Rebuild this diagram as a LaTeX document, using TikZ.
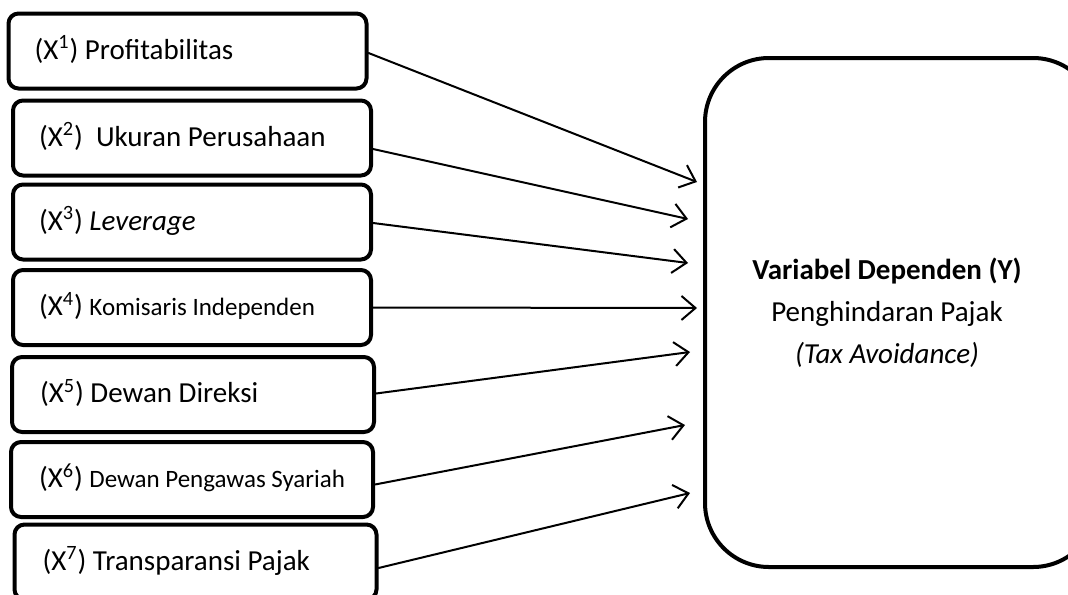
\documentclass[tikz,border=0pt]{standalone}
\usepackage{fontspec}
\setmainfont{Carlito}
\usetikzlibrary{arrows.meta,calc}
\newcommand\kecil{\fontsize{12.5}{21}\selectfont}

\begin{document}
\begin{tikzpicture}[x=.5pt, y=-.5pt, line join=round, line cap=round,
  >={Straight Barb[length=7pt,width=12pt]},
  varbox/.style={draw, line width=2pt, rounded corners=5pt, minimum height=37.5pt,
    text width=153pt, inner xsep=13pt, align=flush left,
    font=\fontsize{14.5}{21}\selectfont, execute at begin node=\strut},
  depbox/.style={draw, line width=2pt, rounded corners=32pt, minimum width=196pt,
    minimum height=254.5pt, align=center, font=\fontsize{14.5}{21}\selectfont}]
\useasboundingbox (0,0) rectangle (1068,594);
%Variabel independen (X)
\node[varbox] (x1) at (187.5,51) {(X\textsuperscript{1}) Profitabilitas};
\node[varbox] (x2) at (192,138) {(X\textsuperscript{2})~ Ukuran Perusahaan};
\node[varbox] (x3) at (192,222) {(X\textsuperscript{3}) \textit{Leverage}};
\node[varbox] (x4) at (192,307.5) {(X\textsuperscript{4}) {\kecil Komisaris Independen}};
\node[varbox, inner xsep=14pt] (x5) at (193,394.5) {(X\textsuperscript{5}) Dewan Direksi};
\node[varbox, inner xsep=14pt] (x6) at (192,479.5) {(X\textsuperscript{6}) {\kecil Dewan Pengawas Syariah}};
\node[varbox, inner xsep=14pt] (x7) at (195.5,562) {(X\textsuperscript{7}) Transparansi Pajak};
%Variabel dependen (Y)
\node[depbox] (dep) at (901,312.5) {\hspace*{-14pt}\textbf{Variabel Dependen (Y)}\\ \hspace*{-14pt}Penghindaran Pajak\\ \hspace*{-14pt}\textit{(Tax Avoidance)}};
%Panah
\foreach \i/\dy/\tx/\ty in {1/2/697/182, 2/11/688/219, 3/1/688/263, 4/0/697/308,
  5/-1/690/352, 6/5/685/425, 7/6/690/493}
{
  \coordinate (t\i) at (\tx,\ty);
  \draw[->, line width=1pt] ($(x\i.east)+(0,\dy)$) -- (t\i);
}
\end{tikzpicture}
\end{document}
